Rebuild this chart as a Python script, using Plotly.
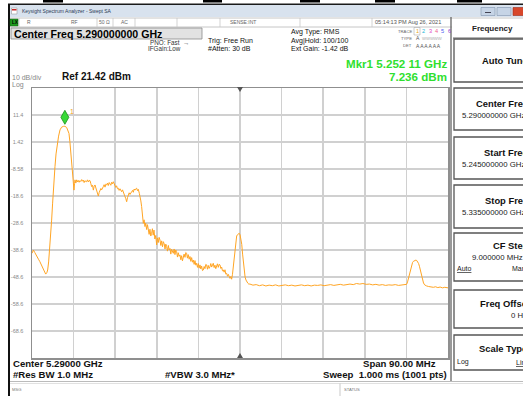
import plotly.graph_objects as go

W, H = 523, 396
FONT = "Liberation Sans, Arial, sans-serif"

# ---------------- data ----------------
start_ghz = 5.245
stop_ghz = 5.335
center_ghz = 5.290
ref_level = 21.42
bottom_level = -78.58
div_ghz = 0.009
ytick_vals = [11.42, 1.42, -8.58, -18.58, -28.58, -38.58, -48.58, -58.58, -68.58]
ytick_text = ["11.4", "1.42", "-8.58", "-18.6", "-28.6", "-38.6", "-48.6", "-58.6", "-68.6"]
mkr_freq_ghz = 5.25211
mkr_level_dbm = 7.236

# trace segments: (MHz offset from start, dBm)
seg_carrier = [
    (0.0, -39.8), (0.3, -38.6), (0.6, -39.5), (1.0, -41.1), (1.4, -42.0), (1.7, -42.9),
    (2.1, -44.5), (2.45, -46.0), (2.75, -47.2), (2.96, -47.5), (3.2, -47.0), (3.39, -46.0),
    (3.6, -43.0), (3.89, -37.4), (4.1, -32.0), (4.25, -27.5), (4.45, -21.5), (4.61, -16.4),
    (4.8, -11.5), (4.97, -7.7), (5.2, -3.0), (5.48, 0.9), (5.75, 3.6), (6.06, 5.9),
    (6.4, 6.9), (6.78, 7.2), (7.11, 7.24), (7.5, 6.8), (7.8, 5.8), (8.0, 4.6), (8.2, 1.5),
    (8.43, -2.8), (8.6, -7.0), (8.8, -11.4), (9.0, -15.5), (9.08, -16.4), (9.2, -14.0),
]
seg_plateau = [
    (9.30, -12.6), (9.48, -13.8), (9.66, -12.6), (9.85, -13.4), (10.0, -12.8), (10.2, -13.5),
    (10.38, -12.9), (10.55, -13.2), (10.75, -12.5), (10.92, -13.1), (11.10, -12.7),
    (11.28, -13.6), (11.45, -12.9), (11.64, -13.2), (11.82, -13.3), (12.0, -12.6),
    (12.2, -13.4), (12.38, -12.8), (12.55, -12.9), (12.73, -14.0), (12.91, -15.1),
    (13.1, -14.6), (13.27, -16.4), (13.45, -15.0), (13.63, -14.5), (13.82, -15.6),
    (14.0, -16.9), (14.18, -17.5), (14.35, -18.6), (14.53, -17.3), (14.71, -16.4),
    (14.9, -15.8), (15.07, -16.3), (15.25, -15.2), (15.43, -15.1), (15.6, -14.4),
    (15.8, -15.3), (15.97, -14.2), (16.15, -14.5), (16.33, -13.8), (16.5, -14.7),
    (16.7, -13.6), (16.87, -13.9), (17.05, -14.6), (17.23, -13.5), (17.4, -14.1),
    (17.59, -13.3), (17.77, -14.2), (17.95, -14.5), (18.13, -15.4), (18.3, -14.8),
    (18.5, -15.9), (18.67, -15.7), (18.85, -16.5), (19.03, -15.9), (19.2, -16.8),
    (19.40, -17.0), (19.58, -16.3), (19.75, -17.4), (19.93, -18.1), (20.12, -18.8),
    (20.3, -19.6), (20.48, -20.7), (20.66, -19.2), (20.84, -18.2), (21.02, -17.4),
    (21.2, -18.0), (21.38, -17.1), (21.56, -17.0), (21.74, -16.5), (21.92, -17.2),
    (22.1, -16.0), (22.28, -16.4), (22.46, -15.9), (22.64, -15.7), (22.82, -16.6),
    (23.0, -16.1), (23.22, -17.6), (23.4, -18.9), (23.55, -20.4), (23.72, -22.5),
    (23.9, -25.6), (24.08, -28.7),
]
seg_decay = [
    (24.25, -27.4), (24.44, -29.9), (24.6, -28.6), (24.8, -31.0), (24.98, -29.2),
    (25.16, -30.6), (25.34, -32.8), (25.52, -30.9), (25.7, -33.4), (25.88, -32.4),
    (26.05, -30.7), (26.22, -33.1), (26.39, -31.2), (26.58, -34.5), (26.77, -33.2),
    (26.97, -36.7), (27.15, -34.1), (27.33, -35.8), (27.5, -33.9), (27.69, -34.9),
    (27.87, -36.9), (28.05, -35.2), (28.23, -37.4), (28.41, -35.5), (28.6, -36.3),
    (28.78, -38.2), (28.95, -36.4), (29.13, -37.3), (29.3, -39.0), (29.5, -36.9),
    (29.67, -38.6), (29.85, -38.0), (30.03, -40.1), (30.2, -38.3), (30.4, -39.4),
    (30.57, -39.8), (30.75, -38.2), (30.93, -40.3), (31.1, -38.6), (31.29, -39.2),
    (31.47, -41.2), (31.65, -39.6), (31.83, -40.9), (32.01, -40.4), (32.2, -42.2),
    (32.37, -40.7), (32.55, -42.6), (32.73, -41.7), (32.9, -40.1), (33.1, -41.3),
    (33.27, -39.5), (33.45, -39.8), (33.63, -41.6), (33.8, -40.3), (34.0, -42.0),
    (34.18, -41.0), (34.36, -42.8), (34.54, -41.4), (34.72, -43.1), (34.90, -42.3),
    (35.08, -43.9), (35.26, -42.5), (35.44, -44.2), (35.62, -43.5), (35.8, -45.0),
    (35.98, -43.6), (36.16, -45.3), (36.34, -44.1), (36.52, -45.6), (36.7, -44.5),
    (36.88, -46.2), (37.06, -46.0), (37.24, -44.7), (37.42, -45.5), (37.6, -43.9),
    (37.78, -44.1), (37.96, -45.7), (38.14, -44.3), (38.32, -45.4), (38.50, -44.8),
    (38.68, -43.6), (38.86, -44.9), (39.04, -43.8), (39.22, -43.5), (39.4, -45.1),
    (39.58, -44.2), (39.76, -45.5), (39.94, -44.8), (40.12, -43.7), (40.3, -45.0),
    (40.48, -43.9), (40.67, -44.1), (40.85, -45.4), (41.03, -44.9), (41.21, -46.3),
    (41.39, -46.0), (41.57, -46.8), (41.75, -45.9), (41.93, -47.5), (42.11, -47.2),
    (42.3, -48.3), (42.47, -47.6), (42.65, -48.9), (42.83, -49.1), (43.01, -48.4),
    (43.19, -49.4),
]
seg_spur1 = [
    (43.37, -47.6), (43.55, -44.8), (43.73, -40.6), (43.91, -37.4), (44.1, -34.6),
    (44.28, -33.4), (44.46, -32.9), (44.64, -32.5), (44.84, -32.4), (45.02, -33.0),
    (45.2, -34.2), (45.38, -36.5), (45.56, -40.1), (45.74, -43.8), (45.92, -46.8),
    (46.1, -48.6), (46.29, -49.7), (46.5, -50.5), (46.7, -50.9), (46.9, -51.2), (47.15, -51.2),
]
seg_floor = [
    (47.8, -51.6), (48.5, -51.4), (49.2, -51.8), (49.9, -51.5), (50.6, -51.9), (51.3, -51.6),
    (52.0, -51.8), (52.7, -51.5), (53.4, -51.9), (54.1, -51.7), (54.8, -51.5), (55.5, -51.8),
    (56.2, -51.6), (56.9, -51.9), (57.6, -51.7), (58.3, -51.5), (59.0, -51.8), (59.7, -51.6),
    (60.4, -51.9), (61.1, -51.6), (61.8, -51.7), (62.5, -51.5), (63.2, -51.8), (63.9, -51.6),
    (64.6, -51.4), (65.3, -51.7), (66.0, -51.5), (66.7, -51.3), (67.4, -51.6), (68.1, -51.3),
    (68.8, -51.2), (69.5, -51.4), (70.2, -51.0), (70.9, -51.2), (71.6, -51.0), (72.3, -51.3),
    (73.0, -51.2), (73.7, -51.5), (74.4, -51.3), (75.1, -51.6), (75.8, -51.4), (76.5, -51.7),
    (77.2, -51.5), (77.9, -51.6), (78.6, -51.4), (79.3, -51.7), (80.0, -51.5), (80.6, -51.6),
]
seg_spur2 = [
    (81.05, -51.3), (81.25, -50.4), (81.45, -48.9), (81.62, -47.4), (81.8, -46.2),
    (81.98, -44.8), (82.15, -43.9), (82.33, -43.2), (82.5, -42.8), (82.7, -42.5),
    (82.9, -42.3), (83.07, -42.3), (83.25, -42.5), (83.45, -43.0), (83.64, -43.6),
    (83.82, -44.6), (84.0, -46.0), (84.15, -47.3), (84.29, -48.5), (84.5, -49.9),
    (84.7, -50.8), (84.95, -51.5), (85.2, -51.8), (85.38, -51.9), (85.8, -52.1),
    (86.3, -52.3), (86.82, -52.4), (87.3, -52.2), (87.8, -52.5), (88.3, -52.3),
    (88.8, -52.6), (89.3, -52.4), (89.7, -52.6), (90.0, -52.6),
]

trace_pts = seg_carrier + seg_plateau + seg_decay + seg_spur1 + seg_floor + seg_spur2
trace_x = [start_ghz + f / 1000.0 for f, _ in trace_pts]
trace_y = [v for _, v in trace_pts]

# ---------------- helpers (pixel layout) ----------------
def X(px):
    return px / W

def Y(py):
    return 1 - py / H

shapes = []
annotations = []

def rect(x0, y0, x1, y1, fill=None, line=None, lw=1.0, layer="above"):
    shapes.append(dict(type="rect", xref="paper", yref="paper",
                       x0=X(x0), x1=X(x1), y0=Y(y1), y1=Y(y0),
                       fillcolor=fill if fill else "rgba(0,0,0,0)",
                       line=dict(color=line if line else "rgba(0,0,0,0)", width=lw if line else 0),
                       layer=layer))

def hline(x0, x1, y, color, lw=1.0):
    shapes.append(dict(type="line", xref="paper", yref="paper",
                       x0=X(x0), x1=X(x1), y0=Y(y), y1=Y(y),
                       line=dict(color=color, width=lw)))

def vline(x, y0, y1, color, lw=1.0):
    shapes.append(dict(type="line", xref="paper", yref="paper",
                       x0=X(x), x1=X(x), y0=Y(y0), y1=Y(y1),
                       line=dict(color=color, width=lw)))

def txt(x, y, s, size, color="#222", bold=False, xanchor="left"):
    annotations.append(dict(xref="paper", yref="paper", x=X(x), y=Y(y),
                            text=f"<b>{s}</b>" if bold else s, showarrow=False,
                            xanchor=xanchor, yanchor="middle", borderpad=0,
                            font=dict(size=size, color=color, family=FONT)))

# ---------------- figure ----------------
fig = go.Figure()
fig.add_trace(go.Scatter(x=trace_x, y=trace_y, mode="lines",
                         line=dict(color="#FFA524", width=1), hoverinfo="skip"))

# top artifacts / window frame
for a, b in [(43, 63), (203, 222), (300, 320), (375, 395), (457, 482)]:
    rect(a, 0, b, 2.5, fill="#000")
rect(10, 5, 523, 17, fill="#d8e2ee")
hline(8, 523, 4.3, "#1a1a1a", 1.5)
rect(8, 4, 10, 396, fill="#111")
rect(11.5, 8, 17, 14, fill="#ffffff", line="#888", lw=0.5)
rect(12, 9, 16.5, 10.5, fill="#c8282a")
txt(21, 11, "Keysight Spectrum Analyzer - Swept SA", 5, "#2b3a55")
rect(481, 7.5, 495, 15.5, fill="#c6d4e6", line="#7f93ad", lw=0.6)
rect(497, 7.5, 511, 15.5, fill="#c6d4e6", line="#7f93ad", lw=0.6)
rect(513, 7.5, 526, 15.5, fill="#d8472b", line="#9a2a18", lw=0.6)
hline(485, 491, 12.5, "#445", 1)

# status row
hline(10, 523, 18, "#b8b8b8", 0.8)
hline(10, 452, 27, "#b8b8b8", 0.8)
for cx in [19, 97, 113, 135, 177, 220, 300, 372]:
    vline(cx, 18, 27, "#c8c8c8", 0.8)
rect(10, 19, 18, 26, fill="#1e9a1e", line="#0c5a0c", lw=0.5)
txt(11, 22.5, "LX", 4.5, "#000", bold=True)
txt(26, 22.5, "R", 5, "#666")
txt(70, 22.5, "RF", 5, "#666")
txt(98, 22.5, "50 Ω", 5, "#666")
txt(120, 22.5, "AC", 5, "#666")
txt(229, 22.5, "SENSE:INT", 5, "#666")
txt(374, 22.5, "05:14:13 PM Aug 26, 2021", 5.6, "#555")

# center freq title box
rect(11, 28, 202, 39, fill="#e2e2e2", line="#8a8a8a", lw=0.8)
txt(12.5, 33.7, "Center Freq 5.290000000 GHz", 10.6, "#000", bold=True)

# settings text
txt(149, 42, "PNO: Fast  →", 6.3, "#333")
txt(147, 49, "IFGain:Low", 6.3, "#333")
txt(207, 40.5, "Trig: Free Run", 7, "#111")
txt(207, 49, "#Atten: 30 dB", 7, "#111")
txt(290, 32, "Avg Type: RMS", 7, "#111")
txt(290, 40.5, "Avg|Hold: 100/100", 7, "#111")
txt(290, 49, "Ext Gain: -1.42 dB", 7, "#111")
txt(413, 31, "TRACE", 4.2, "#666", xanchor="right")
txt(413, 38.5, "TYPE", 4.2, "#666", xanchor="right")
txt(413, 45.5, "DET", 4.2, "#666", xanchor="right")
rect(414, 27.5, 420, 35, fill="#fff", line="#999", lw=0.5)
for i, c in enumerate(["#e7a81e", "#27b8d8", "#e040c8", "#f06090", "#4a5cf0", "#8a3fd0"]):
    txt(415 + i * 6.3, 31.3, str(i + 1), 5.6, c)
txt(415, 38.5, "A", 5, "#555")
txt(421, 38.5, "WWWWW", 4.2, "#aaa")
txt(415, 45.5, "A A A A A A", 5, "#555")

# marker readout
txt(448, 63.5, "Mkr1 5.252 11 GHz", 11.6, "#2fe02f", bold=True, xanchor="right")
txt(448, 76.5, "7.236 dBm", 11.6, "#2fe02f", bold=True, xanchor="right")

# scale texts
txt(11, 77.5, "10 dB/div", 7, "#888")
txt(11, 85, "Log", 7, "#888")
txt(61, 77, "Ref 21.42 dBm", 10, "#111", bold=True)

# bottom texts
txt(11.5, 363, "Center 5.29000 GHz", 9.6, "#111", bold=True)
txt(11.5, 374, "#Res BW 1.0 MHz", 9.6, "#111", bold=True)
txt(164, 374, "#VBW 3.0 MHz*", 9.6, "#111", bold=True)
txt(437, 363, "Span 90.00 MHz", 9.6, "#111", bold=True, xanchor="right")
txt(448, 374, "Sweep  1.000 ms (1001 pts)", 9.6, "#111", bold=True, xanchor="right")

# status bar
hline(10, 523, 381.5, "#aaa", 0.8)
hline(10, 523, 383.5, "#ccc", 0.6)
vline(340, 383.5, 396, "#bbb", 0.8)
txt(11, 389, "MSG", 4.2, "#777")
txt(343, 389, "STATUS", 4.2, "#777")

# right soft-key panel
vline(451, 17, 381, "#6f6f6f", 1.4)
hline(453, 523, 38, "#666", 1.0)
txt(471, 28, "Frequency", 8, "#222", bold=True)
panel_boxes = [
    (39, 82), (88, 130), (137, 179), (185, 228), (233, 281), (290, 328), (335, 370),
]
for t, b in panel_boxes:
    rect(454, t, 535, b, fill="#ffffff", line="#555", lw=1.3)
txt(481, 60.5, "Auto Tune", 9.4, "#111", bold=True)
txt(475, 103, "Center Freq", 9.4, "#111", bold=True)
txt(461, 115.5, "5.290000000 GHz", 7.8, "#222")
txt(483, 152, "Start Freq", 9.4, "#111", bold=True)
txt(461, 164.5, "5.245000000 GHz", 7.8, "#222")
txt(484, 200, "Stop Freq", 9.4, "#111", bold=True)
txt(461, 212.5, "5.335000000 GHz", 7.8, "#222")
txt(492, 245, "CF Step", 9.4, "#111", bold=True)
txt(471, 257, "9.000000 MHz", 7.8, "#222")
txt(456, 268, "<u>Auto</u>", 7, "#222")
txt(511, 268, "Man", 7, "#222")
txt(479, 303, "Freq Offset", 9.4, "#111", bold=True)
txt(510, 315.5, "0 Hz", 7.8, "#222")
txt(478, 348, "Scale Type", 9.4, "#111", bold=True)
txt(456, 362, "Log", 7, "#222")
txt(515, 362, "<u>Lin</u>", 7, "#222")

# graticule extras: darker center line, center ticks
shapes.append(dict(type="line", xref="x", yref="paper", x0=center_ghz, x1=center_ghz,
                   y0=Y(358), y1=Y(88), line=dict(color="#a9a9a9", width=1.5), layer="between"))
shapes.append(dict(type="path", xref="paper", yref="paper",
                   path=f"M {X(237)} {Y(87)} L {X(243)} {Y(87)} L {X(240)} {Y(92)} Z",
                   fillcolor="#555", line=dict(width=0)))
shapes.append(dict(type="path", xref="paper", yref="paper",
                   path=f"M {X(237)} {Y(358)} L {X(243)} {Y(358)} L {X(240)} {Y(353)} Z",
                   fillcolor="#555", line=dict(width=0)))

# marker diamond anchored to the marker point
shapes.append(dict(type="path", xref="x", yref="y", xsizemode="pixel", ysizemode="pixel",
                   xanchor=mkr_freq_ghz, yanchor=mkr_level_dbm,
                   path="M 0 2 L 4 9 L 0 16 L -4 9 Z",
                   fillcolor="#36d936", line=dict(color="#1a8f1a", width=0.8)))
annotations.append(dict(xref="x", yref="y", x=mkr_freq_ghz, y=mkr_level_dbm, text="1",
                        showarrow=False, xshift=7, yshift=15, borderpad=0,
                        font=dict(size=7, color="#f0a020", family=FONT)))

fig.update_layout(
    width=W, height=H,
    margin=dict(l=0, r=0, t=0, b=0),
    paper_bgcolor="#ffffff", plot_bgcolor="#ffffff",
    showlegend=False,
    shapes=shapes, annotations=annotations,
    xaxis=dict(domain=[X(32), X(448)], range=[start_ghz, stop_ghz],
               tick0=start_ghz, dtick=div_ghz, showticklabels=False, ticks="",
               showgrid=True, gridcolor="#d0d0d0", gridwidth=1.5, zeroline=False,
               showline=True, mirror=True, linecolor="#8f8f8f", linewidth=1.5, fixedrange=True),
    yaxis=dict(domain=[Y(358), Y(88)], range=[bottom_level, ref_level],
               tickmode="array", tickvals=ytick_vals, ticktext=ytick_text,
               tickfont=dict(size=5.5, color="#8a8a8a", family=FONT), ticks="",
               ticklabelstandoff=6,
               showgrid=True, gridcolor="#d0d0d0", gridwidth=1.5, zeroline=False,
               showline=True, mirror=True, linecolor="#8f8f8f", linewidth=1.5, fixedrange=True),
)

fig.write_html("out.html", config={"displayModeBar": False, "staticPlot": True},
               post_script="document.body.style.margin='0';document.body.style.overflow='hidden';")
